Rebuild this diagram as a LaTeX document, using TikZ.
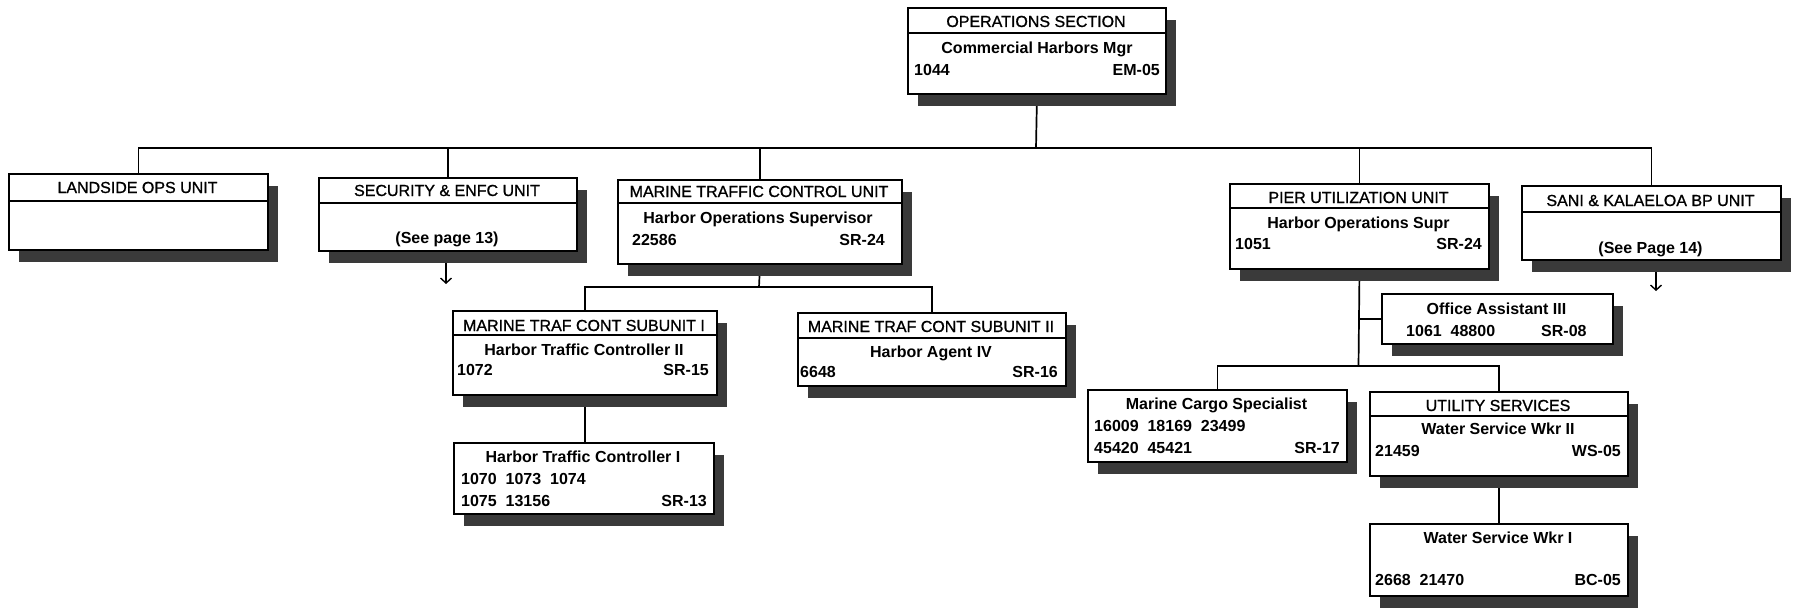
\documentclass[tikz,border=0pt]{standalone}
\usepackage{fontspec}
\setmainfont{Liberation Sans}
\newfontfamily\hdrfamily[FakeBold=1]{Liberation Sans}
\usetikzlibrary{shadows,calc,arrows.meta}
\definecolor{shadowgray}{RGB}{58,58,58}
\pgfdeclarelayer{background}
\pgfsetlayers{background,main}
\begin{document}
\begin{tikzpicture}[x=1pt,y=-1pt,
  unitbox/.style={draw, line width=2pt, fill=white, inner sep=0pt, anchor=north west,
    general shadow={fill=shadowgray, shadow xshift=10pt, shadow yshift=-12pt}},
  hdrline/.style={line width=1.5pt},
  conn/.style={line width=1.7pt},
  refarrow/.style={line width=1.4pt, -{Straight Barb[length=5pt,width=11pt]}},
  hdrtxt/.style={inner sep=0pt, font=\fontsize{16}{19}\hdrfamily},
  bodytxt/.style={inner sep=0pt, font=\fontsize{16}{19}\selectfont\bfseries}
]
\begin{pgfonlayer}{background}
\useasboundingbox[fill=white] (0,0) rectangle (1796,613);
\end{pgfonlayer}

% ---------- boxes ----------
\node[unitbox, minimum width=258pt, minimum height=86pt] (ops)   at (907,7)    {};
\node[unitbox, minimum width=259pt, minimum height=76pt] (land)  at (8,173)    {};
\node[unitbox, minimum width=258pt, minimum height=73pt] (sec)   at (318,177)  {};
\node[unitbox, minimum width=284pt, minimum height=84pt] (mtc)   at (617,179)  {};
\node[unitbox, minimum width=259pt, minimum height=85pt] (pier)  at (1229,183) {};
\node[unitbox, minimum width=259pt, minimum height=74pt] (sani)  at (1521,185) {};
\node[unitbox, minimum width=264pt, minimum height=84pt] (sub1)  at (452,310)  {};
\node[unitbox, minimum width=268pt, minimum height=73pt] (sub2)  at (797,312)  {};
\node[unitbox, minimum width=260pt, minimum height=71pt] (htc1)  at (453,442)  {};
\node[unitbox, minimum width=231pt, minimum height=50pt] (oa)    at (1381,293) {};
\node[unitbox, minimum width=259pt, minimum height=72pt] (cargo) at (1087,389) {};
\node[unitbox, minimum width=258pt, minimum height=84pt] (util)  at (1369,391) {};
\node[unitbox, minimum width=258pt, minimum height=72pt] (wsw1)  at (1369,523) {};

% ---------- header separators ----------
\draw[hdrline] ($(ops.north west)+(0,26)$)  -- ($(ops.north east)+(0,26)$);
\draw[hdrline] ($(land.north west)+(0,28)$) -- ($(land.north east)+(0,28)$);
\draw[hdrline] ($(sec.north west)+(0,26)$)  -- ($(sec.north east)+(0,26)$);
\draw[hdrline] ($(mtc.north west)+(0,24)$)  -- ($(mtc.north east)+(0,24)$);
\draw[hdrline] ($(pier.north west)+(0,25)$) -- ($(pier.north east)+(0,25)$);
\draw[hdrline] ($(sani.north west)+(0,27)$) -- ($(sani.north east)+(0,27)$);
\draw[hdrline] ($(sub1.north west)+(0,25)$) -- ($(sub1.north east)+(0,25)$);
\draw[hdrline] ($(sub2.north west)+(0,26)$) -- ($(sub2.north east)+(0,26)$);
\draw[hdrline] ($(util.north west)+(0,25)$) -- ($(util.north east)+(0,25)$);

% ---------- texts ----------
\node[hdrtxt, anchor=base] (ops-h) at (1036,27) {OPERATIONS SECTION};
\node[bodytxt, anchor=base] (ops-t) at (1037,53) {Commercial Harbors Mgr};
\node[bodytxt, anchor=base west] (ops-l) at (914,75) {1044};
\node[bodytxt, anchor=base east] (ops-r) at (1160,75) {EM-05};

\node[hdrtxt, anchor=base] (land-h) at (137.5,193) {LANDSIDE OPS UNIT};

\node[hdrtxt, anchor=base] (sec-h) at (447,196) {SECURITY \& ENFC UNIT};
\node[bodytxt, anchor=base] (sec-t) at (447,243) {(See page 13)};

\node[hdrtxt, anchor=base] (mtc-h) at (759,197) {MARINE TRAFFIC CONTROL UNIT};
\node[bodytxt, anchor=base] (mtc-t) at (758,223) {Harbor Operations Supervisor};
\node[bodytxt, anchor=base west] (mtc-l) at (632,245) {22586};
\node[bodytxt, anchor=base east] (mtc-r) at (885,245) {SR-24};

\node[hdrtxt, anchor=base] (pier-h) at (1358.5,203) {PIER UTILIZATION UNIT};
\node[bodytxt, anchor=base] (pier-t) at (1358.5,228) {Harbor Operations Supr};
\node[bodytxt, anchor=base west] (pier-l) at (1235,249) {1051};
\node[bodytxt, anchor=base east] (pier-r) at (1482,249) {SR-24};

\node[hdrtxt, anchor=base] (sani-h) at (1650.5,206) {SANI \& KALAELOA BP UNIT};
\node[bodytxt, anchor=base] (sani-t) at (1650.5,253) {(See Page 14)};

\node[hdrtxt, anchor=base] (sub1-h) at (584,331) {MARINE TRAF CONT SUBUNIT I};
\node[bodytxt, anchor=base] (sub1-t) at (584,355) {Harbor Traffic Controller II};
\node[bodytxt, anchor=base west] (sub1-l) at (457,375) {1072};
\node[bodytxt, anchor=base east] (sub1-r) at (709,375) {SR-15};

\node[hdrtxt, anchor=base] (sub2-h) at (931,332) {MARINE TRAF CONT SUBUNIT II};
\node[bodytxt, anchor=base] (sub2-t) at (931,357) {Harbor Agent IV};
\node[bodytxt, anchor=base west] (sub2-l) at (800,377) {6648};
\node[bodytxt, anchor=base east] (sub2-r) at (1058,377) {SR-16};

\node[bodytxt, anchor=base] (htc1-t) at (583,462) {Harbor Traffic Controller I};
\node[bodytxt, anchor=base west] (htc1-a) at (461,484) {1070\ \ 1073\ \ 1074};
\node[bodytxt, anchor=base west] (htc1-b) at (461,506) {1075\ \ 13156};
\node[bodytxt, anchor=base east] (htc1-r) at (707,506) {SR-13};

\node[bodytxt, anchor=base] (oa-t) at (1496.5,314) {Office Assistant III};
\node[bodytxt, anchor=base west] (oa-l) at (1406,336) {1061\ \ 48800};
\node[bodytxt, anchor=base west] (oa-r) at (1541,336) {SR-08};

\node[bodytxt, anchor=base] (cargo-t) at (1216.5,409) {Marine Cargo Specialist};
\node[bodytxt, anchor=base west] (cargo-a) at (1094,431) {16009\ \ 18169\ \ 23499};
\node[bodytxt, anchor=base west] (cargo-b) at (1094,453) {45420\ \ 45421};
\node[bodytxt, anchor=base east] (cargo-r) at (1340,453) {SR-17};

\node[hdrtxt, anchor=base] (util-h) at (1498,411) {UTILITY SERVICES};
\node[bodytxt, anchor=base] (util-t) at (1498,434) {Water Service Wkr II};
\node[bodytxt, anchor=base west] (util-l) at (1375,456) {21459};
\node[bodytxt, anchor=base east] (util-r) at (1621,456) {WS-05};

\node[bodytxt, anchor=base] (wsw1-t) at (1498,543) {Water Service Wkr I};
\node[bodytxt, anchor=base west] (wsw1-l) at (1375,585) {2668\ \ 21470};
\node[bodytxt, anchor=base east] (wsw1-r) at (1621,585) {BC-05};

% ---------- connectors ----------
\coordinate (bus) at (1036,148);
\coordinate (mbus) at (759,287);
\coordinate (pbus) at (1358.5,366);
\coordinate (secarrow) at (446,284);
\coordinate (saniarrow) at (1656,291);

\begin{pgfonlayer}{background}
\draw[conn] (ops.south) -- (bus);
\draw[conn] (land.north) |- (bus) -| (sani.north);
\draw[conn] (sec.north) -- (sec.north |- bus);
\draw[conn] (mtc.north) -- (mtc.north |- bus);
\draw[conn] (pier.north) -- (pier.north |- bus);

\draw[conn] (mtc.south) -- (mbus);
\draw[conn] (sub1.north) |- (mbus) -| (sub2.north);
\draw[conn] (sub1.south) -- (sub1.south |- htc1.north);

\draw[conn] (pier.south) -- (pbus);
\draw[conn] (pier.south |- oa.west) -- (oa.west);
\draw[conn] (cargo.north) |- (pbus) -| (util.north);
\draw[conn] (util.south) -- (wsw1.north);

\draw[refarrow] (sec.south -| secarrow) -- (secarrow);
\draw[refarrow] (sani.south -| saniarrow) -- (saniarrow);
\end{pgfonlayer}
\end{tikzpicture}
\end{document}
